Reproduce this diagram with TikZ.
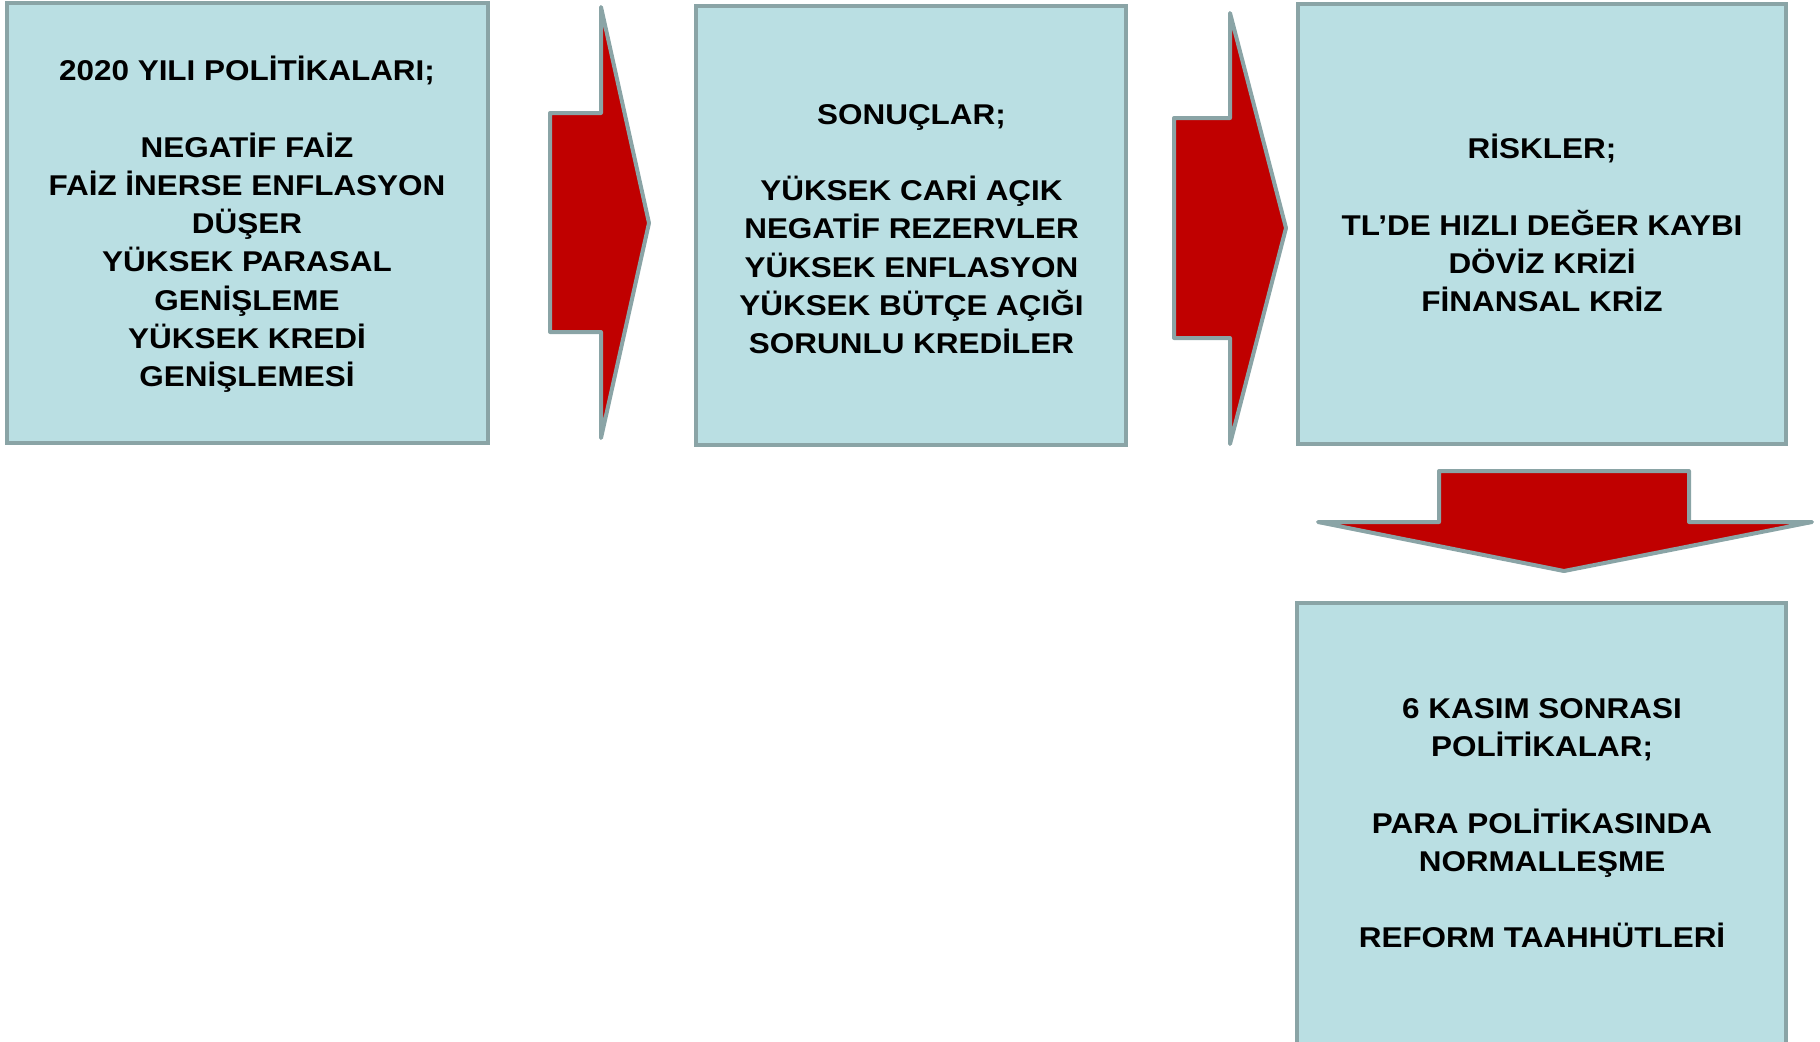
\documentclass[tikz,border=0pt]{standalone}
\usepackage{fontspec}
\setmainfont{Liberation Sans}[FakeStretch=1.1]
\definecolor{boxfill}{RGB}{186,223,227}
\definecolor{boxline}{RGB}{138,164,166}
\definecolor{arrred}{RGB}{192,0,0}
\begin{document}
\begin{tikzpicture}[x=0.5pt,y=-0.5pt,
            box/.style={draw=boxline,fill=boxfill,line width=2.2pt},
            blockarrow/.style={draw=boxline,fill=arrred,line width=2pt,line join=round},
            txt/.style={align=center,inner sep=0pt,
            font=\fontsize{14.3}{19.1}\selectfont\bfseries}]
            \useasboundingbox (0,0) rectangle (1820,1041);
            \draw[box] (7,3) rectangle (488,443);
            \draw[box] (696,6) rectangle (1126,445);
            \draw[box] (1298,4) rectangle (1786,444);
            \draw[box] (1297,603) rectangle (1786,1050);
            \draw[blockarrow] (550,113)--(601,113)--(601,7)--(649,223)--(601,438)--(601,332)--(550,332)--cycle;
            \draw[blockarrow] (1174,118)--(1230,118)--(1230,13)--(1286,228)--(1230,444)--(1230,338)--(1174,338)--cycle;
            \draw[blockarrow] (1439,471)--(1689,471)--(1689,522)--(1812,522)--(1564,571)--(1318,522)--(1439,522)--cycle;
            \node[txt] (politika) at (247,224.5) {2020 YILI POLİTİKALARI;\\[19.1pt]NEGATİF FAİZ\\FAİZ İNERSE ENFLASYON\\DÜŞER\\YÜKSEK PARASAL\\GENİŞLEME\\YÜKSEK KREDİ\\GENİŞLEMESİ};
            \node[txt] (sonuc) at (911.5,229) {SONUÇLAR;\\[19.1pt]YÜKSEK CARİ AÇIK\\NEGATİF REZERVLER\\YÜKSEK ENFLASYON\\YÜKSEK BÜTÇE AÇIĞI\\SORUNLU KREDİLER};
            \node[txt] (risk) at (1542,223) {RİSKLER;\\[19.1pt]TL’DE HIZLI DEĞER KAYBI\\DÖVİZ KRİZİ\\FİNANSAL KRİZ};
            \node[txt] (yeni) at (1542,823.5) {6 KASIM SONRASI\\POLİTİKALAR;\\[19.1pt]PARA POLİTİKASINDA\\NORMALLEŞME\\[19.1pt]REFORM TAAHHÜTLERİ};
        \end{tikzpicture}
\end{document}
